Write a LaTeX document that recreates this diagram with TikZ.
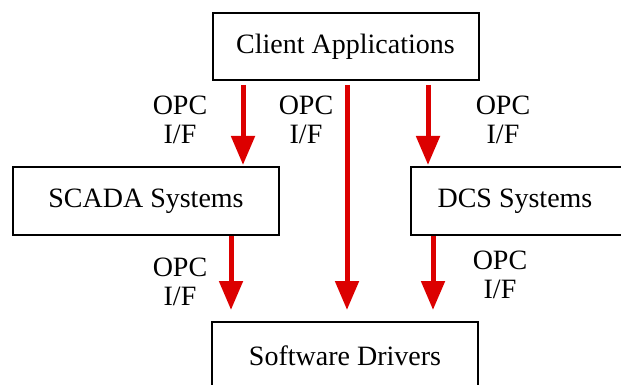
\documentclass[tikz,border=0pt]{standalone}
\usepackage{fontspec}
\setmainfont{Liberation Serif}
\usepackage{xcolor}
\usetikzlibrary{arrows.meta}
\definecolor{opcred}{RGB}{220,0,0}

\begin{document}
\begin{tikzpicture}[x=1pt,y=-1pt,
    sysbox/.style={draw=black,line width=2pt,minimum width=266pt,minimum height=67pt,inner sep=0pt,font=\fontsize{28}{29}\selectfont},
    opclabel/.style={align=center,inner sep=0pt,font=\fontsize{28}{29}\selectfont},
    opcarrow/.style={draw=opcred,line width=5pt,-{Triangle[width=23pt,length=29pt]}}]
				\useasboundingbox (0,0) rectangle (621,385);
				\clip (0,0) rectangle (621,385);

				\node[sysbox] (client) at (345.5,46.5) {Client Applications};
				\node[sysbox,minimum height=68pt] (scada) at (146,201) {SCADA Systems};
				\node[sysbox,minimum height=68pt] (dcs) at (544,201) {\hspace*{-58pt}DCS Systems};
				\node[sysbox] (drivers) at (345,355.5) {Software Drivers};

				\coordinate (colA) at (243,0);
				\coordinate (colB) at (347,0);
				\coordinate (colC) at (428,0);
				\coordinate (colD) at (231,0);
				\coordinate (colE) at (433,0);

				\draw[opcarrow,shorten <=4pt,shorten >=1pt] (client.south -| colA) -- (scada.north -| colA);
				\draw[opcarrow,shorten <=4pt,shorten >=11pt] (client.south -| colB) -- (drivers.north -| colB);
				\draw[opcarrow,shorten <=4pt,shorten >=1pt] (client.south -| colC) -- (dcs.north -| colC);
				\draw[opcarrow,shorten >=11pt] (scada.south -| colD) -- (drivers.north -| colD);
				\draw[opcarrow,shorten >=11pt] (dcs.south -| colE) -- (drivers.north -| colE);

				\node[opclabel] (lblA) at (180,120) {OPC\\I/F};
				\node[opclabel] (lblB) at (306,120) {OPC\\I/F};
				\node[opclabel] (lblC) at (503,120) {OPC\\I/F};
				\node[opclabel] (lblD) at (180,282) {OPC\\I/F};
				\node[opclabel] (lblE) at (500,275) {OPC\\I/F};
			\end{tikzpicture}
\end{document}
